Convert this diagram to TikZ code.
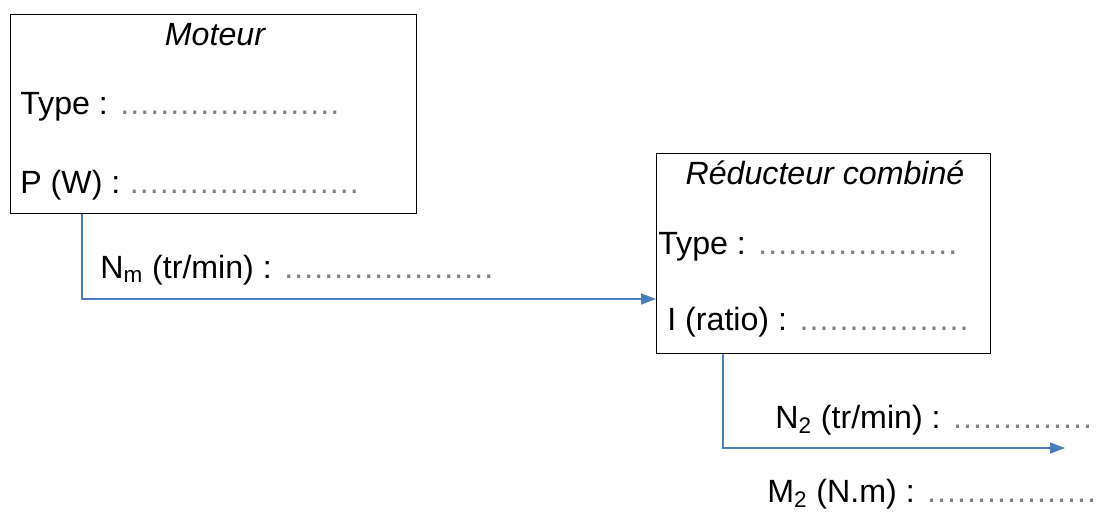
\documentclass[tikz,border=0pt]{standalone}
\usepackage{fontspec}
\setmainfont{Liberation Sans}
\usepackage{tikz}
\usetikzlibrary{arrows.meta}
\definecolor{bleufleche}{HTML}{4A7EBB}
\definecolor{grispoint}{HTML}{808080}
\newcommand{\pointilles}[1]{{\color{grispoint}\makebox[#1]{\leaders\hbox to 0.2cm{\hss.\hss}\hfill}}}

\begin{document}
\begin{tikzpicture}[
bloc/.style={rectangle, draw=black, line width=0.8pt, anchor=north west, inner sep=0pt},
titre/.style={font=\fontsize{18.3}{22}\selectfont\itshape},
champ/.style={anchor=west, inner sep=0pt, font=\fontsize{18.3}{22}\selectfont},
fleche/.style={draw=bleufleche, line width=0.85pt, -{Triangle[length=0.3cm,width=0.22cm]}}
]
\useasboundingbox (0,0) rectangle (22.12,-10.24);
%Nodes
\node[bloc, minimum width=8.12cm, minimum height=3.98cm]  (moteur)    at (0.2,-0.28)   {};
\node[bloc, minimum width=6.68cm, minimum height=4.0cm]   (reducteur) at (13.12,-3.06) {};
\node[titre]  (tmoteur)   at (4.3,-0.7)    {Moteur};
\node[champ]  (typem)     at (0.4,-2.14)   {Type : \pointilles{4.54cm}};
\node[champ]  (puiss)     at (0.4,-3.7)    {P (W) : \pointilles{4.6cm}};
\node[champ]  (nm)        at (2.0,-5.4)    {N\textsubscript{m} (tr/min) : \pointilles{4.34cm}};
\node[titre]  (treduc)    at (16.5,-3.46)  {Réducteur combiné};
\node[champ]  (typer)     at (13.16,-4.94) {Type : \pointilles{4.1cm}};
\node[champ]  (ratio)     at (13.34,-6.44) {I (ratio) : \pointilles{3.5cm}};
\node[champ]  (n2)        at (15.5,-8.4)   {N\textsubscript{2} (tr/min) : \pointilles{2.9cm}};
\node[champ]  (m2)        at (15.34,-9.88) {M\textsubscript{2} (N.m) : \pointilles{3.4cm}};
\coordinate (sortie1) at ([xshift=1.44cm]moteur.south west);
\coordinate (entree1) at (reducteur.west |- 0,-5.98);
\coordinate (sortie2) at ([xshift=1.34cm]reducteur.south west);
\coordinate (fin2)    at (21.3,-8.96);
%Lines
\draw[fleche] (sortie1) |- (entree1);
\draw[fleche] (sortie2) |- (fin2);
\end{tikzpicture}
\end{document}
